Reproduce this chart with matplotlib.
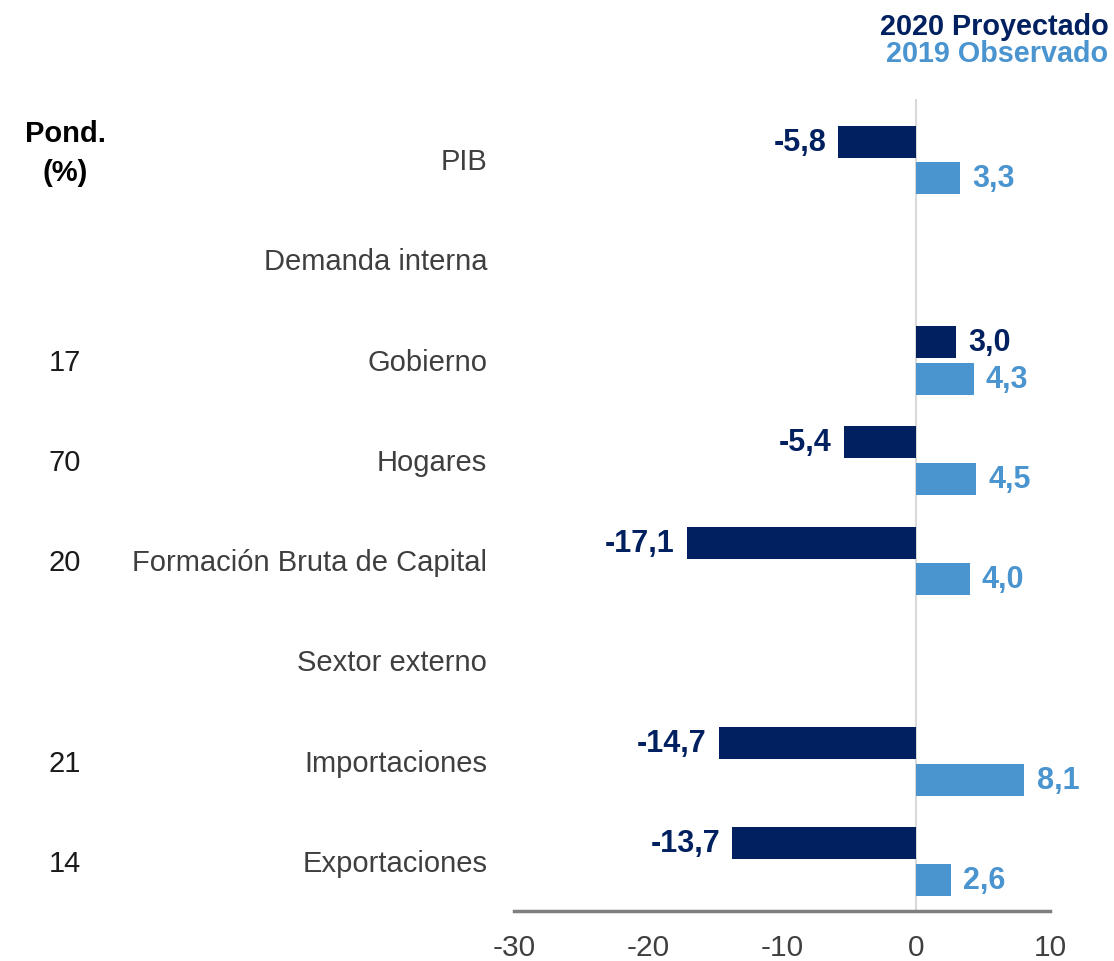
import numpy as np
import matplotlib.pyplot as plt

plt.rcParams['font.family'] = ['Liberation Sans', 'DejaVu Sans']

categories = ["PIB", "Demanda interna", "Gobierno", "Hogares",
              "Formación Bruta de Capital", "Sextor externo",
              "Importaciones", "Exportaciones"]
weights = ["", "", "17", "70", "20", "", "21", "14"]
proj_2020 = [-5.8, np.nan, 3.0, -5.4, -17.1, np.nan, -14.7, -13.7]
obs_2019 = [3.3, np.nan, 4.3, 4.5, 4.0, np.nan, 8.1, 2.6]
xticks = [-30, -20, -10, 0, 10]

DARK = "#002060"
LIGHT = "#4a94cf"
TEXT = "#3f3f3f"


def fmt(v):
    return f"{v:.1f}".replace(".", ",")


def label_bars(ax, ys, values, color):
    for y, v in zip(ys, values):
        if np.isnan(v):
            continue
        off = 0.9 if v >= 0 else -0.9
        ax.text(v + off, y, fmt(v), ha="left" if v >= 0 else "right",
                va="center", fontsize=22, fontweight="bold", color=color)


fig = plt.figure(figsize=(11.14, 9.62), dpi=100)
ax = fig.add_axes([0.4614, 0.052, 0.4811, 0.844])

pos = np.arange(len(categories))
h = 0.32
ax.barh(pos - 0.175, proj_2020, height=h, color=DARK)
ax.barh(pos + 0.19, obs_2019, height=h, color=LIGHT)
label_bars(ax, pos - 0.175, proj_2020, DARK)
label_bars(ax, pos + 0.19, obs_2019, LIGHT)

ax.axvline(0, color="#d9d9d9", lw=1.5, zorder=0)
ax.set_xlim(-30, 10)
ax.set_ylim(7.5, -0.6)
ax.set_xticks(xticks)
ax.set_xticklabels([str(t) for t in xticks], fontsize=21.5, color=TEXT)
ax.tick_params(axis="x", length=0, pad=16)
ax.set_yticks([])
for s in ["top", "right", "left"]:
    ax.spines[s].set_visible(False)
ax.spines["bottom"].set_color("#7f7f7f")
ax.spines["bottom"].set_linewidth(2.5)

# category names and weights on the left
for y, name, w in zip(pos, categories, weights):
    ax.text(-32.0, y + 0.02, name, ha="right", va="center", fontsize=21, color=TEXT)
    if w:
        ax.text(-63.5, y + 0.02, w, ha="center", va="center", fontsize=21, color="#1a1a1a")
ax.text(-63.5, -0.07, "Pond.\n(%)", ha="center", va="center", fontsize=21,
        fontweight="bold", color="#000000", linespacing=1.5)

# legend in the top right corner
fig.text(0.995, 0.972, "2020 Proyectado", ha="right", va="center",
         fontsize=20.7, fontweight="bold", color=DARK)
fig.text(0.995, 0.944, "2019 Observado", ha="right", va="center",
         fontsize=20.7, fontweight="bold", color=LIGHT)

fig.savefig("out.png", dpi=100, facecolor="white")
